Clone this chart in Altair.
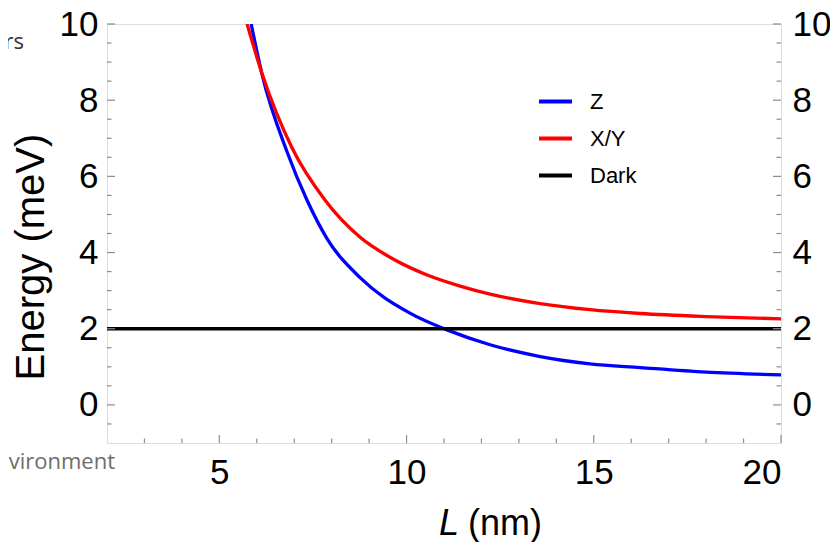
import altair as alt
import pandas as pd

# ---- data ----
L_z = [5.85, 6.14, 6.81, 7.34, 7.88, 8.76, 10.09, 11.08, 12.23, 13.57, 14.9, 16.24, 18.0, 20.0]
E_z = [10.0, 8.68, 6.64, 5.38, 4.36, 3.34, 2.41, 1.97, 1.58, 1.27, 1.08, 0.98, 0.86, 0.79]

L_xy = [5.74, 6.14, 6.94, 7.82, 8.76, 9.64, 10.55, 11.43, 12.23, 13.57, 14.9, 16.24, 18.0, 20.0]
E_xy = [10.0, 8.70, 6.75, 5.38, 4.40, 3.83, 3.41, 3.12, 2.91, 2.66, 2.50, 2.40, 2.32, 2.26]

L_dark = [2.0, 20.0]
E_dark = [2.0, 2.0]

series_names = ["Z", "X/Y", "Dark"]
series_colors = ["#0000ff", "#ff0000", "#000000"]

x_major = [5, 10, 15, 20]
x_minor = [3, 4, 6, 7, 8, 9, 11, 12, 13, 14, 16, 17, 18, 19]
y_major = [0, 2, 4, 6, 8, 10]
y_minor = [-0.5, 0.5, 1, 1.5, 2.5, 3, 3.5, 4.5, 5, 5.5, 6.5, 7, 7.5, 8.5, 9, 9.5]

W, H = 674, 419
FONT = "Liberation Sans"
FRAME = "#8c8c8c"

rows = []
for name, Ls, Es in [("Z", L_z, E_z), ("X/Y", L_xy, E_xy), ("Dark", L_dark, E_dark)]:
    for i, (l, e) in enumerate(zip(Ls, Es)):
        rows.append({"L": l, "E": e, "series": name, "order": i})
df = pd.DataFrame(rows)

xs = alt.Scale(domain=[2, 20], nice=False, zero=False)
ys = alt.Scale(domain=[-1, 10], nice=False, zero=False)

x_axis = alt.Axis(title=None, values=x_major, format="d", ticks=False, tickSize=0,
                  domain=False, grid=False, labelFontSize=35, labelFont=FONT,
                  labelColor="#000", labelPadding=12)

lines = alt.Chart(df).mark_line(strokeWidth=3.3, interpolate="monotone", clip=True).encode(
    x=alt.X("L:Q", scale=xs, axis=x_axis),
    y=alt.Y("E:Q", scale=ys, axis=alt.Axis(title=None, values=y_major, format="d", ticks=False, tickSize=0,
                                          domain=False, grid=False, labelFontSize=35, labelFont=FONT,
                                          labelColor="#000", labelPadding=9, orient="left")),
    color=alt.Color("series:N", scale=alt.Scale(domain=series_names, range=series_colors),
                    legend=alt.Legend(title=None, orient="none", legendX=430, legendY=59,
                                      symbolType="stroke", symbolSize=1089, symbolStrokeWidth=3.8,
                                      labelFontSize=22, labelFont=FONT, labelColor="#000",
                                      labelOffset=16, rowPadding=7, padding=0)),
    order="order:Q",
    detail="series:N",
)

right_axis = alt.Chart(pd.DataFrame({"E": y_major})).mark_point(opacity=0).encode(
    y=alt.Y("E:Q", scale=ys, axis=alt.Axis(title=None, values=y_major, format="d", ticks=False, tickSize=0,
                                          domain=False, grid=False, labelFontSize=35, labelFont=FONT,
                                          labelColor="#000", labelPadding=11, orient="right")),
    x=alt.value(W),
)

def xticks(vals, length):
    return alt.Chart(pd.DataFrame({"v": vals})).mark_rule(color=FRAME, strokeWidth=1.2).encode(
        x=alt.X("v:Q", scale=xs, axis=x_axis), y=alt.value(H), y2=alt.value(H - length))

def yticks_left(vals, length):
    return alt.Chart(pd.DataFrame({"v": vals})).mark_rule(color=FRAME, strokeWidth=1.2).encode(
        y=alt.Y("v:Q", scale=ys, axis=None), x=alt.value(0), x2=alt.value(length))

def yticks_right(vals, length):
    return alt.Chart(pd.DataFrame({"v": vals})).mark_rule(color=FRAME, strokeWidth=1.2).encode(
        y=alt.Y("v:Q", scale=ys, axis=None), x=alt.value(W), x2=alt.value(W - length))

ticks = [xticks(x_major, 8), xticks(x_minor, 4.5),
         yticks_left(y_major, 8), yticks_left(y_minor, 4.5),
         yticks_right(y_major, 8), yticks_right(y_minor, 4.5)]

def label(text, x, y, **kw):
    return alt.Chart(pd.DataFrame({"t": [text]})).mark_text(**kw).encode(
        text="t:N", x=alt.value(x), y=alt.value(y))

xtitle_L = label("L", 332, 511, font=FONT, fontSize=36, fontStyle="italic", align="left",
                 baseline="alphabetic", color="#000")
xtitle_nm = label("(nm)", 361, 511, font=FONT, fontSize=36, align="left", baseline="alphabetic", color="#000")
ytitle = label("Energy (meV)", -63, 233, font=FONT, fontSize=40, angle=270, align="center",
               baseline="alphabetic", color="#000")
clip1 = label("rs", -83, 18, font="Open Sans", fontSize=22, align="right", baseline="middle", color="#333333")
clip2 = label("vironment", 8, 438, font="Open Sans", fontSize=22, align="right", baseline="middle",
              color="#6e6e6e")

chart = alt.layer(lines, right_axis, *ticks, xtitle_L, xtitle_nm, ytitle, clip1, clip2).resolve_axis(
    y="independent"
).properties(
    width=W, height=H,
    autosize=alt.AutoSizeParams(type="none"),
    padding={"left": 99, "top": 16, "right": 49, "bottom": 99},
).configure_view(stroke=FRAME, strokeWidth=1.3).configure(background="white")

chart.save("out.html", embed_options={"renderer": "svg", "actions": False})
